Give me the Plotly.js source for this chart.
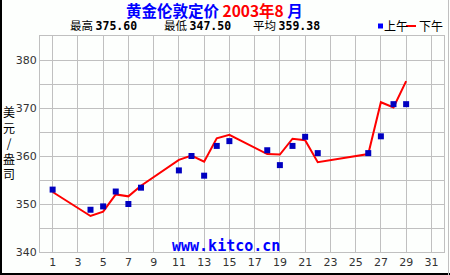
<!DOCTYPE html>
<html><head><meta charset="utf-8">
<script src="https://cdn.plot.ly/plotly-3.0.1.min.js"></script>
<style>html,body{margin:0;padding:0;background:#fdfffd;}#chart{width:450px;height:275px;}</style>
</head><body><div id="chart"></div>
<script>
const amDays = [1,4,5,6,7,8,11,12,13,14,15,18,19,20,21,22,26,27,28,29];
const amPrice = [353.0,348.8,349.5,352.6,350.0,353.4,357.0,360.0,355.9,362.1,363.1,361.2,358.1,362.1,364.0,360.6,360.6,364.1,370.8,370.8];
const pmDays = [1,4,5,6,7,8,11,12,13,14,15,18,19,20,21,22,26,27,28,29];
const pmPrice = [352.5,347.5,348.4,352.0,351.6,353.8,359.2,360.1,358.8,363.7,364.4,360.4,360.3,363.6,363.3,358.7,360.4,371.2,370.1,375.6];
const xTicks = [1,3,5,7,9,11,13,15,17,19,21,23,25,27,29,31];
const yTicks = [340,350,360,370,380];
const statLabels = ['最高','最低','平均'];
const statValues = ['375.60','347.50','359.38'];

const cjk = '"Noto Sans CJK SC", "DejaVu Sans", sans-serif';
const mono = '"DejaVu Sans Mono", monospace';
const px = v => (v-40)/404;
const py = v => (252-v)/216;
const traces = [
  {x: pmDays, y: pmPrice, type:'scatter', mode:'lines', line:{color:'#ff0000', width:2}, hoverinfo:'skip'},
  {x: amDays, y: amPrice, type:'scatter', mode:'markers', marker:{symbol:'square', size:6, color:'#0000c0'}, hoverinfo:'skip'}
];
const statX = [68,162,251];
const ann = [];
statLabels.forEach((s,i)=>{
  ann.push({xref:'paper', yref:'paper', x:px(statX[i]), y:py(25.5), xanchor:'left', yanchor:'middle', text:s+' <span style="font-family:DejaVu Sans Mono;font-size:11.5px"><b>'+statValues[i]+'</b></span>', showarrow:false, font:{family:cjk, size:11.5, color:'#000'}});
});
ann.push(
  {xref:'paper', yref:'paper', x:px(214), y:py(10), xanchor:'center', yanchor:'middle', text:'<b><span style="color:#0000ff">黄金伦敦定价 </span><span style="color:#ff0000">2003年8</span><span style="color:#0000ff"> 月</span></b>', showarrow:false, font:{family:cjk, size:15.5, color:'#0000ff'}},
  {xref:'paper', yref:'paper', x:px(382), y:py(25.5), xanchor:'left', yanchor:'middle', text:'上午', showarrow:false, font:{family:cjk, size:12, color:'#000'}},
  {xref:'paper', yref:'paper', x:px(417), y:py(25.5), xanchor:'left', yanchor:'middle', text:'下午', showarrow:false, font:{family:cjk, size:12, color:'#000'}},
  {xref:'paper', yref:'paper', x:px(9), y:py(142), xanchor:'center', yanchor:'middle', text:'美<br>元<br>/<br>盎<br>司', showarrow:false, font:{family:cjk, size:12, color:'#000'}},
  {xref:'paper', yref:'paper', x:px(226), y:py(246), xanchor:'center', yanchor:'middle', text:'<b>www.kitco.cn</b>', showarrow:false, font:{family:mono, size:15, color:'#0000ff'}}
);
const layout = {
  width:450, height:275,
  margin:{l:40, r:6, t:36, b:23},
  paper_bgcolor:'#fdfffd', plot_bgcolor:'#fdfffd',
  showlegend:false,
  xaxis:{range:[0,32], tickvals:xTicks, ticktext:xTicks.map(String), showgrid:true, gridcolor:'#c0c0c0', gridwidth:1,
         zeroline:false, showline:true, mirror:true, linecolor:'#c0c0c0', linewidth:1, ticks:'',
         tickfont:{family:'"DejaVu Sans", sans-serif', size:11, color:'#333'}, fixedrange:true},
  yaxis:{range:[340,385], tickvals:yTicks, ticktext:yTicks.map(String), showgrid:true, gridcolor:'#c0c0c0', gridwidth:1,
         minor:{dtick:5, tick0:340, showgrid:true, gridcolor:'#c0c0c0', gridwidth:1, ticks:''},
         zeroline:false, showline:true, mirror:true, linecolor:'#c0c0c0', linewidth:1, ticks:'',
         tickfont:{family:'"DejaVu Sans", sans-serif', size:11, color:'#333'}, fixedrange:true},
  annotations: ann,
  shapes:[
    {type:'rect', xref:'paper', yref:'paper', x0:px(378), x1:px(383), y0:py(28.5), y1:py(23.5), fillcolor:'#0000ff', line:{width:0}},
    {type:'rect', xref:'paper', yref:'paper', x0:px(406), x1:px(416), y0:py(27), y1:py(25), fillcolor:'#ff0000', line:{width:0}},
    {type:'line', xref:'paper', yref:'paper', x0:px(1), x1:px(1), y0:py(275), y1:py(0), line:{color:'#000', width:2}},
    {type:'line', xref:'paper', yref:'paper', x0:px(0), x1:px(450), y0:py(274), y1:py(274), line:{color:'#000', width:2}},
    {type:'line', xref:'paper', yref:'paper', x0:px(448.5), x1:px(448.5), y0:py(275), y1:py(0), line:{color:'#c0c0c0', width:1}}
  ]
};
Plotly.newPlot('chart', traces, layout, {staticPlot:true, displayModeBar:false});
</script></body></html>
